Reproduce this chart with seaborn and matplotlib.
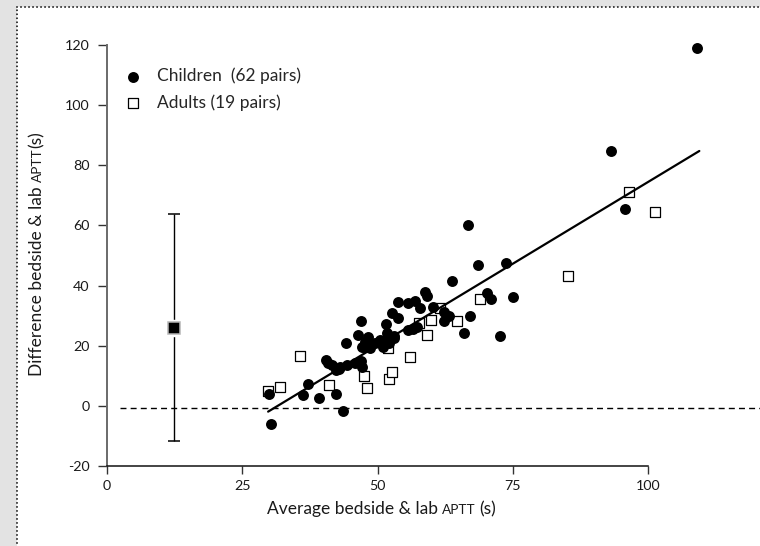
import matplotlib
matplotlib.use("Agg")
import matplotlib.pyplot as plt
import seaborn as sns
from matplotlib.lines import Line2D
from matplotlib.patches import Rectangle

# Bland-Altman style agreement data: average of bedside & lab APTT (s)
# against their difference (s)
child_avg = [30.3, 43.6, 30.0, 36.3, 39.1, 42.4, 37.2, 40.5, 41.5, 42.3,
             43.0, 44.3, 45.9, 46.9, 47.1, 44.2, 46.3, 46.9, 48.3, 47.5,
             48.6, 50.4, 51.0, 51.7, 51.5, 52.6, 53.8, 53.0, 52.2, 53.8,
             55.7, 57.0, 57.9, 58.8, 59.1, 60.2, 55.7, 56.6, 62.3, 63.1,
             62.3, 63.7, 67.0, 66.0, 68.6, 70.2, 70.9, 72.6, 66.7, 73.8,
             75.0, 93.1, 95.6, 109.0, 47.6, 47.1, 53.1, 57.2, 49.5, 42.9,
             51.3, 40.8]
child_diff = [-6.2, -1.8, 3.9, 3.5, 2.6, 3.8, 7.4, 15.2, 13.5, 11.9,
              13.0, 13.5, 14.1, 14.8, 13.0, 21.0, 23.6, 28.3, 23.0, 19.7,
              19.1, 21.9, 19.7, 24.1, 27.2, 31.0, 29.1, 23.2, 20.8, 34.6,
              34.1, 34.9, 32.4, 37.9, 36.5, 32.8, 25.2, 25.4, 31.3, 29.8,
              28.3, 41.6, 29.8, 24.3, 46.8, 37.4, 35.5, 23.2, 60.2, 47.6,
              36.2, 84.6, 65.3, 119.0, 21.2, 19.5, 22.6, 26.2, 21.0, 12.3,
              21.2, 14.2]

adult_avg = [29.8, 31.9, 35.7, 41.0, 47.5, 48.0, 52.2, 52.6, 55.9, 52.0,
             57.6, 59.1, 59.9, 61.5, 64.7, 68.9, 85.2, 96.5, 101.3]
adult_diff = [5.0, 6.3, 16.6, 6.9, 9.9, 5.8, 8.9, 11.3, 16.3, 19.1,
              27.4, 23.6, 28.4, 32.4, 28.1, 35.5, 43.2, 71.1, 64.5]

# regression line through the pairs (end points)
fit_x = [29.8, 109.4]
fit_y = [-1.95, 84.75]

# reference line
zero_line_x = [2.4, 120.6]
zero_line_y = [-0.82, -0.82]

# mean difference with its limits
summary_x = 12.5
summary_mean = 26.0
summary_low = -11.6
summary_high = 63.7

x_ticks = [0, 25, 50, 75, 100]
y_ticks = [-20, 0, 20, 40, 60, 80, 100, 120]

sns.set_theme(style="ticks")
plt.rcParams["font.family"] = ["Lato", "DejaVu Sans"]
plt.rcParams["axes.unicode_minus"] = False

W, H = 760, 546
fig = plt.figure(figsize=(W / 100, H / 100), dpi=100, facecolor="#e3e3e3")

# white page with a dotted edge on the left and top
fx, fy = 16.5 / W, 1 - 6.5 / H
fig.patches.append(Rectangle((fx, -0.1), 2, fy + 0.1, transform=fig.transFigure,
                             facecolor="white", edgecolor="none", zorder=-3))
dots = dict(transform=fig.transFigure, color="#1e1e1e", lw=1.4,
            linestyle=(0, (0.01, 2.05)), dash_capstyle="round", zorder=-2)
fig.add_artist(Line2D([fx, fx], [-0.05, fy], **dots))
fig.add_artist(Line2D([fx, 1.05], [fy, fy], **dots))

ax = fig.add_axes([106.7 / W, (H - 465.9) / H, (W - 106.7) / W, (465.9 - 39) / H])
ax.set_facecolor("none")
ax.set_zorder(1)

ax.plot(zero_line_x, zero_line_y, color="black", lw=1.0,
        linestyle=(0, (4.3, 3.0)), zorder=1)

sns.scatterplot(x=adult_avg, y=adult_diff, ax=ax, marker="s", s=48,
                color="white", edgecolor="black", linewidth=0.9,
                label="Adults (19 pairs)", zorder=2)
sns.scatterplot(x=child_avg, y=child_diff, ax=ax, marker="o", s=62,
                color="black", edgecolor="black", linewidth=0,
                label="Children  (62 pairs)", zorder=3)
sns.lineplot(x=fit_x, y=fit_y, ax=ax, color="black", lw=1.6,
             legend=False, zorder=4)

ax.errorbar([summary_x], [summary_mean],
            yerr=[[summary_mean - summary_low], [summary_high - summary_mean]],
            fmt="none", ecolor="black", elinewidth=1.0, capsize=4.3,
            capthick=1.1, zorder=2)
ax.plot([summary_x], [summary_mean], marker="s", ms=12, mfc="white",
        mec="white", zorder=3)
ax.plot([summary_x], [summary_mean], marker="s", ms=8.2, mfc="black",
        mec="#b5b5b5", mew=1.1, zorder=4)

ax.set_xlim(0, 120.6)
ax.set_ylim(-20, 122)
ax.set_xticks(x_ticks)
ax.set_yticks(y_ticks)
ax.set_xlabel("")
ax.set_ylabel("")

sns.despine(ax=ax)
ax.spines["left"].set_bounds(-20, 120)
ax.spines["bottom"].set_bounds(0, 100)
ax.spines["left"].set_color("#6a6a6a")
ax.spines["left"].set_linewidth(1.4)
ax.spines["bottom"].set_color("#111111")
ax.spines["bottom"].set_linewidth(1.1)
ax.tick_params(axis="y", length=6.2, width=1.0, pad=6, labelsize=10.3,
               color="#333333", labelcolor="#1a1a1a")
ax.tick_params(axis="x", length=5.8, width=1.0, pad=4, labelsize=10.3,
               color="#333333", labelcolor="#1a1a1a")

handles, labels = ax.get_legend_handles_labels()
order = [labels.index("Children  (62 pairs)"), labels.index("Adults (19 pairs)")]
ax.legend([handles[i] for i in order], [labels[i] for i in order],
          loc="upper left", bbox_to_anchor=(124.6 / W, 1 - 67.8 / H),
          bbox_transform=fig.transFigure, frameon=False, fontsize=12.5,
          handlelength=1.0, handletextpad=0.86, labelspacing=0.56,
          borderpad=0, borderaxespad=0)

# axis titles with APTT set in small capitals
renderer = fig.canvas.get_renderer()


def label_with_small_caps(pieces, cx, cy, rotation=0):
    """Write (text, size, gap) pieces side by side, centred on pixel (cx, cy)."""
    widths = []
    for text, size, gap in pieces:
        t = fig.text(0, 0, text, fontsize=size)
        widths.append(t.get_window_extent(renderer).width + gap)
        t.remove()
    total = sum(widths)
    done = 0.0
    for (text, size, gap), w in zip(pieces, widths):
        if rotation == 0:
            x_px, y_px = cx - total / 2 + done, cy
        else:
            x_px, y_px = cx, cy + total / 2 - done
        fig.text(x_px / W, 1 - y_px / H, text, fontsize=size, color="#1a1a1a",
                 rotation=rotation, rotation_mode="anchor",
                 ha="left", va="baseline")
        done += w


label_with_small_caps([("Average bedside & lab", 12.5, 4.5), ("APTT", 9.8, 4.0),
                       ("(s)", 12.5, 0)], 381.5, 514)
label_with_small_caps([("Difference bedside & lab", 12.5, 4.5), ("APTT", 9.8, 0.5),
                       ("(s)", 12.5, 0)], 42, 254, rotation=90)

fig.savefig("out.png", dpi=100, facecolor=fig.get_facecolor())
